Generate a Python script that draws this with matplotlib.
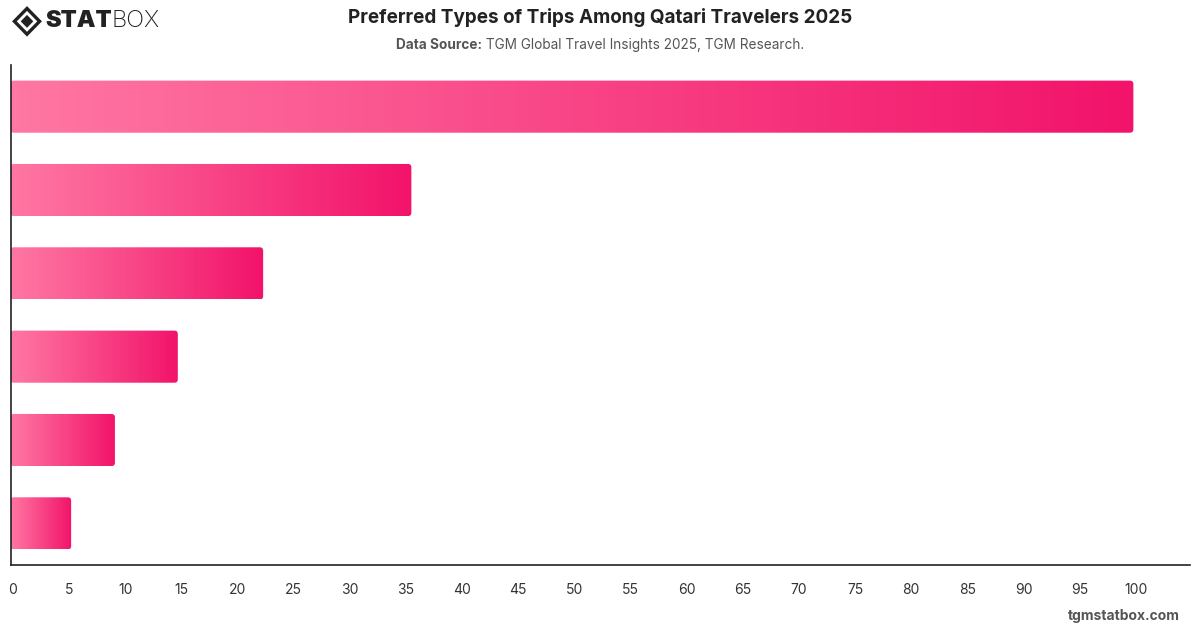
import numpy as np
import matplotlib
matplotlib.use("Agg")
import matplotlib.pyplot as plt
import matplotlib.transforms as mtrans
from matplotlib.colors import LinearSegmentedColormap
from matplotlib.patches import FancyBboxPatch, Polygon

# values, top bar first (category labels are not shown)
ranks = [1, 2, 3, 4, 5, 6]
shares = [100.0, 35.7, 22.5, 14.9, 9.3, 5.4]
xticks = list(range(0, 101, 5))

TITLE = "Preferred Types of Trips Among Qatari Travelers 2025"
SRC_BOLD = "Data Source:"
SRC_REST = " TGM Global Travel Insights 2025, TGM Research."

plt.rcParams["font.family"] = ["Inter", "DejaVu Sans"]
grad = LinearSegmentedColormap.from_list("pk", ["#ff77a3", "#f2136a"])

fig = plt.figure(figsize=(12, 6.28), dpi=100)
ax = fig.add_axes([0.00875, 0.1003, 0.9825, 0.7962])
ax.set_xlim(0, 105)
ax.set_ylim(len(ranks) - 0.5, -0.5)

bar_h = 0.625
px_x = 0.9825 * 1200 / 105
px_y = 0.7962 * 628 / len(ranks)
asp = px_x / px_y
g = np.linspace(0, 1, 256).reshape(1, -1)
for i, v in enumerate(shares):
    y0 = i - bar_h / 2
    box = FancyBboxPatch((0, y0), v, bar_h, boxstyle="round,pad=0,rounding_size=0.3",
                         mutation_aspect=asp, fc="none", ec="none")
    ax.add_patch(box)
    im = ax.imshow(g, cmap=grad, aspect="auto", extent=(0, v, y0 + bar_h, y0),
                   interpolation="bilinear", zorder=2)
    im.set_clip_path(box)

ax.set_xlim(0, 105)
ax.set_ylim(len(ranks) - 0.5, -0.5)
ax.set_xticks(xticks)
ax.set_yticks([])
ax.tick_params(axis="x", length=0, pad=13, labelsize=10, labelcolor="#333333")
shift = mtrans.ScaledTranslation(2.5 / 100, 0, fig.dpi_scale_trans)
for lab in ax.get_xticklabels():
    lab.set_transform(lab.get_transform() + shift)
for s in ["top", "right"]:
    ax.spines[s].set_visible(False)
for s in ["left", "bottom"]:
    ax.spines[s].set_color("#222222")
    ax.spines[s].set_linewidth(1.2)

# title and source
fig.text(0.5, 0.972, TITLE, ha="center", va="center", fontsize=13.6, fontweight="bold", color="#222222")
t1 = fig.text(0.33, 0.929, SRC_BOLD, ha="left", va="center", fontsize=9.8, fontweight="bold", color="#555555")
t2 = fig.text(0.4, 0.929, SRC_REST, ha="left", va="center", fontsize=9.8, color="#555555")
fig.canvas.draw()
w1 = t1.get_window_extent().width
w2 = t2.get_window_extent().width
x0 = 600 - (w1 + w2) / 2
t1.set_x(x0 / 1200)
t2.set_x((x0 + w1) / 1200)

# logo
cx, cy = 0.0225, 0.966
dx, dy = 0.0105, 0.0205
fig.patches.append(Polygon([[cx - dx, cy], [cx, cy + dy], [cx + dx, cy], [cx, cy - dy]],
                           closed=True, fc="none", ec="#222222", lw=2.4, transform=fig.transFigure))
fig.patches.append(Polygon([[cx - dx * 0.5, cy], [cx, cy + dy * 0.5], [cx + dx * 0.5, cy], [cx, cy - dy * 0.5]],
                           closed=True, fc="#222222", ec="none", transform=fig.transFigure))
s1 = fig.text(0.0375, 0.966, "STAT", ha="left", va="center", fontsize=17, fontweight="black", color="#222222")
fig.canvas.draw()
bb = s1.get_window_extent()
fig.text(bb.x1 / 1200, 0.966, "BOX", ha="left", va="center", fontsize=17, fontweight="light", color="#222222")

fig.text(0.983, 0.008, "tgmstatbox.com", ha="right", va="bottom", fontsize=10, fontweight="bold", color="#555555")

fig.savefig("out.png", dpi=100)
